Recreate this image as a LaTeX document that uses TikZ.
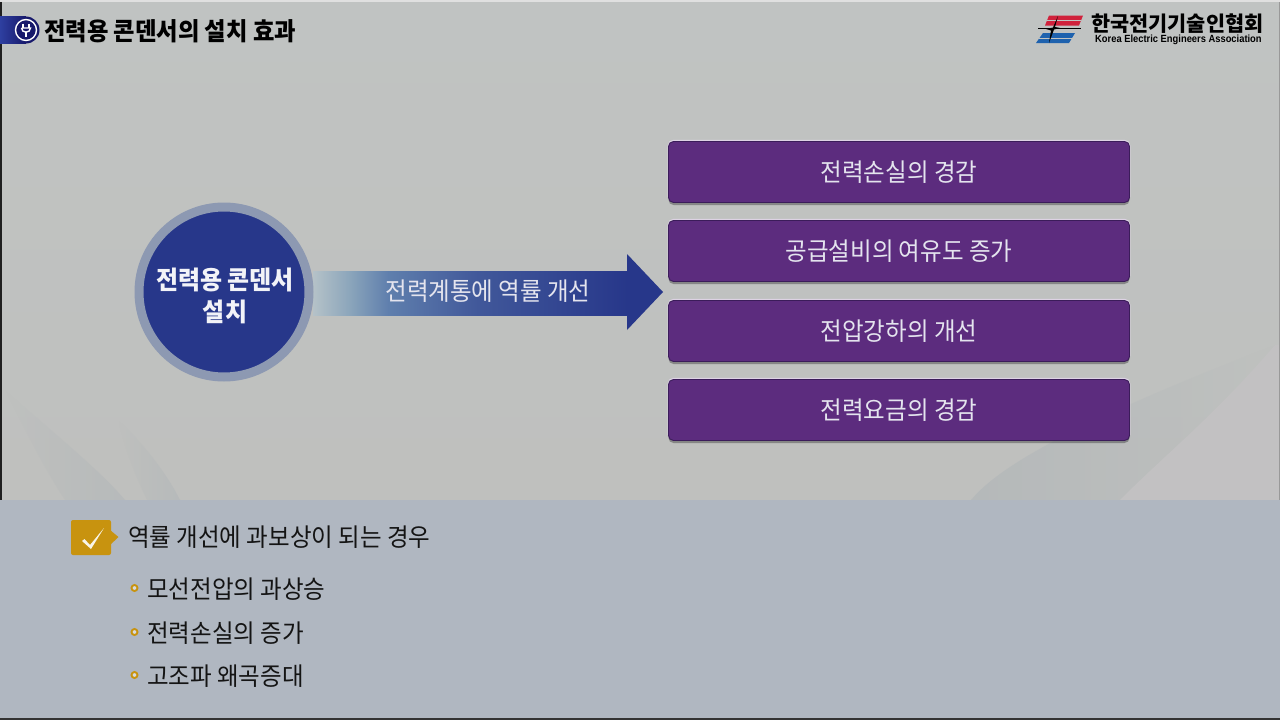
\documentclass[tikz,border=0pt]{standalone}
\usepackage{fontspec}
\setmainfont[FakeStretch=0.94]{Noto Sans CJK KR}
\newfontfamily\logofont{Noto Sans CJK KR}
\newfontfamily\latinf[FakeStretch=0.9]{Liberation Sans}
\usetikzlibrary{shadows,fadings}
\definecolor{bgtop}{HTML}{C0C3C2}
\definecolor{bgmid}{HTML}{C4C4C2}
\definecolor{bglow}{HTML}{BFC0BE}
\definecolor{bgband}{HTML}{AFB5B8}
\definecolor{bgwarm}{HTML}{C2C1C2}
\definecolor{panel}{HTML}{B0B7C1}
\definecolor{navy}{HTML}{27378A}
\definecolor{ringc}{HTML}{8D99B2}
\definecolor{arrowa}{HTML}{B5C2C8}
\definecolor{arrowb}{HTML}{88A3BA}
\definecolor{arrowc}{HTML}{5F7FAD}
\definecolor{arrowd}{HTML}{41589A}
\definecolor{purp}{HTML}{5C2C7E}
\definecolor{purpl}{HTML}{DDD2E4}
\definecolor{purpd}{HTML}{3B1C5A}
\definecolor{gold}{HTML}{C8930F}
\definecolor{txtw}{HTML}{E4E4EE}
\definecolor{tabd}{HTML}{17196B}
\definecolor{tabl}{HTML}{2E3FA0}
\definecolor{logor}{HTML}{D0223C}
\definecolor{logob}{HTML}{1E62AE}
\tikzset{
  x=1pt,y=-1pt,
  purplebox/.style={rounded corners=5pt,draw=purpd,line width=0.9pt,fill=purp,
    preaction={draw=purpl,line width=1.6pt,transform canvas={yshift=0.9pt}},
    drop shadow={opacity=0.3,shadow xshift=0pt,shadow yshift=-2.5pt,fill=black},
    minimum width=461pt,minimum height=61pt,inner sep=0pt,
    text=txtw,font=\fontsize{25}{28}\selectfont},
  bulletdot/.style={circle,draw=gold,fill=panel!50!white,line width=1.9pt,minimum size=6pt,inner sep=0pt},
  itemtext/.style={anchor=west,inner sep=0pt,text=black!92,font=\fontsize{25}{28}\selectfont},
  bandfade/.style={fill=bgband,path fading=#1},
}
\begin{document}
\begin{tikzpicture}
\useasboundingbox (0,0) rectangle (1280,720);
% background
\shade[top color=bgtop,middle color=bgmid,bottom color=bglow] (0,0) rectangle (1280,500);
% faint swooshes in the lower corners
\fill[bandfade=east,opacity=0.6] (1275,345) .. controls (1210,420) and (1170,450) .. (1120,500) -- (971,500) .. controls (1000,465) and (1080,420) .. cycle;
\fill[bgwarm] (1275,345) .. controls (1210,420) and (1170,450) .. (1120,500) -- (1280,500) -- (1280,345) -- cycle;
\fill[bandfade=west,opacity=0.5] (5,390) .. controls (25,430) and (45,470) .. (65,500) -- (125,500) .. controls (100,470) and (50,430) .. cycle;
\fill[bandfade=west,opacity=0.5] (118,420) .. controls (125,450) and (135,475) .. (147,500) -- (180,500) .. controls (165,470) and (140,440) .. cycle;
\fill[panel] (0,500) rectangle (1280,718);
\draw[black!88,line width=2pt] (1,0) -- (1,500);
\draw[black!40,line width=1pt] (1279,0) -- (1279,500);
\draw[black!80,line width=2pt] (0,719) -- (1280,719);
\draw[white!88!black,line width=1.5pt] (0,1) -- (1280,1);
% title tab
\fill[tabd] (26,30) circle (13.5);
\shade[left color=tabl,right color=tabd] (0,16.5) rectangle (26,43.5);
\node[circle,draw=white,line width=1.4pt,fill=tabd,minimum size=21pt,inner sep=0pt] (tic) at (26,30) {};
\draw[white,line width=1.4pt] (23,23.5) -- (23,28) (29,23.5) -- (29,28);
\draw[white,line width=1.4pt] (21.5,28) -- (30.5,28) .. controls (30.5,33.5) and (21.5,33.5) .. (21.5,28);
\draw[white,line width=1.4pt] (26,32) -- (26,37);
\node[anchor=west,inner sep=0pt,font=\fontsize{24.8}{28}\selectfont\bfseries,text=black] (title) at (44,31) {전력용 콘덴서의 설치 효과};
% logo
\fill[logor] (1049,15.5) -- (1083,15.5) -- (1079,25.5) -- (1045,25.5) -- cycle;
\fill[logob] (1043,33) -- (1075,33) -- (1069,43) -- (1036,43) -- cycle;
\draw[bgtop,line width=0.8pt] (1047,20) -- (1081,20) (1039,38) -- (1073,38);
\draw[black,line width=0.8pt] (1038,28.8) -- (1081,28.8);
\fill[black] (1058,16) -- (1055,27) -- (1060,28) -- (1054,29.5) -- (1049,43) -- (1051,30.5) -- (1046,29) -- (1053,27.5) -- cycle;
\node[anchor=west,inner sep=0pt,font=\logofont\fontsize{20.8}{24}\selectfont\bfseries,text=black] (logok) at (1091,24) {한국전기기술인협회};
\node[anchor=west,inner sep=0pt,font=\latinf\fontsize{10.4}{12}\selectfont\bfseries,text=black] (logoe) at (1095,39.5) {Korea Electric Engineers Association};
% arrow
\shade[left color=arrowa,right color=arrowb] (313,271) rectangle (352.5,315);
\shade[left color=arrowb,right color=arrowc] (352,271) rectangle (388.5,315);
\shade[left color=arrowc,right color=arrowd] (388,271) rectangle (477.5,315);
\shade[left color=arrowd,right color=navy] (477,271) rectangle (627.5,315);
\fill[navy] (627,271) -- (627,254) -- (663,292) -- (627,330) -- (627,315) -- cycle;
\node[inner sep=0pt,text=txtw,font=\fontsize{25}{28}\selectfont] (arrowlabel) at (488,291.5) {전력계통에 역률 개선};
% circle
\node[circle,fill=navy,draw=ringc,line width=9pt,minimum size=170pt,inner sep=0pt] (cap) at (224,292) {};
\node[inner sep=0pt,align=center,text=white!94!navy,font=\fontsize{25.5}{32}\selectfont\bfseries] (captext) at (225,295.5) {전력용 콘덴서\\설치};
% boxes
\node[purplebox] (b1) at (899,172) {전력손실의 경감};
\node[purplebox] (b2) at (899,251) {공급설비의 여유도 증가};
\node[purplebox] (b3) at (899,331) {전압강하의 개선};
\node[purplebox] (b4) at (899,410) {전력요금의 경감};
% lower panel
\fill[gold,rounded corners=2pt] (71,520) rectangle (111,555);
\fill[gold] (110,530) -- (118.5,537) -- (110,545) -- cycle;
\fill[white!90!gold] (82,541) -- (84.5,539) -- (90,545) -- (104,528) -- (91,549) -- cycle;
\node[itemtext] (head) at (128,537.5) {역률 개선에 과보상이 되는 경우};
\node[bulletdot] (d1) at (134.5,588) {};
\node[itemtext] (i1) at (147,589) {모선전압의 과상승};
\node[bulletdot] (d2) at (134.5,632) {};
\node[itemtext] (i2) at (147,633) {전력손실의 증가};
\node[bulletdot] (d3) at (134.5,675) {};
\node[itemtext] (i3) at (147,676) {고조파 왜곡증대};
\end{tikzpicture}
\end{document}
